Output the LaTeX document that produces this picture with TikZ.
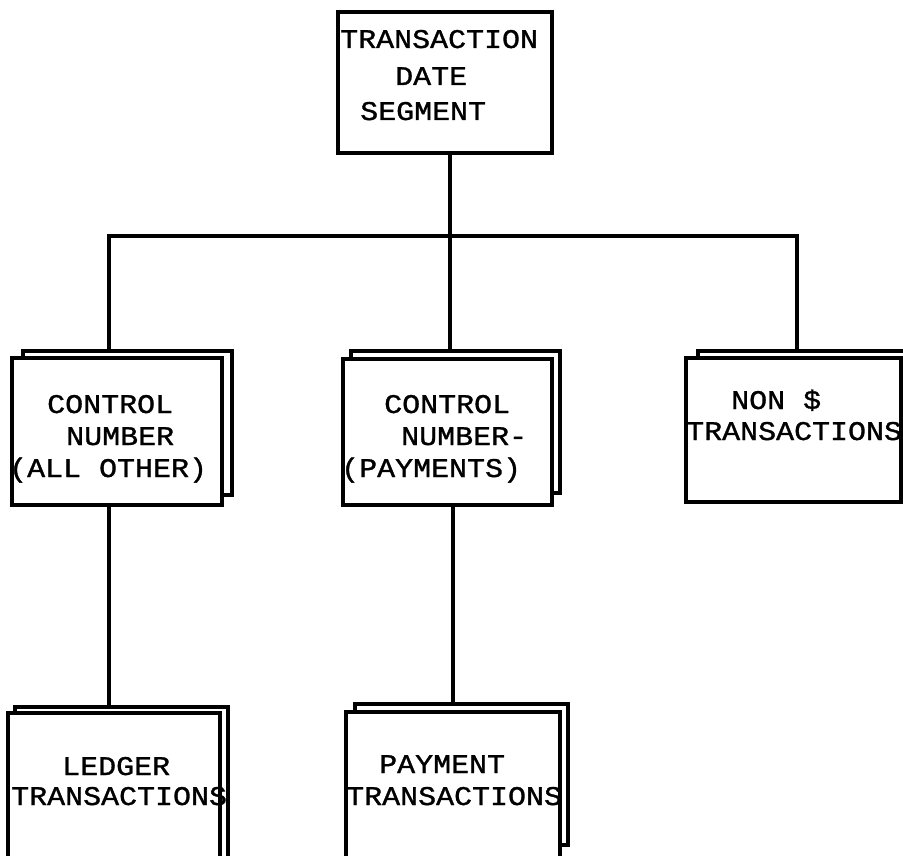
\documentclass[tikz,border=0pt]{standalone}
\usepackage{fontspec}
\newfontfamily\typewriterfont[FakeStretch=1.11,FakeBold=1.2]{Liberation Mono}
\begin{document}
\begin{tikzpicture}[x=1pt,y=-1pt,
  sheet/.style={draw, rectangle, line width=3.4pt, fill=white, inner sep=0pt},
  wire/.style={line width=3.2pt, line join=miter},
  typed/.style={font=\typewriterfont\fontsize{27}{27}\selectfont, inner sep=0pt, anchor=base west}]
\clip (0,0) rectangle (903,856);
\fill[white] (0,0) rectangle (903,856);

% top level record
\node[sheet, minimum width=214pt, minimum height=141pt] (tds) at (445,82.5) {};

% junctions on the distribution bar
\coordinate (jl) at (109,236);
\coordinate (jm) at (450,236);
\coordinate (jr) at (797,236);

% second level: back sheets, then front sheets
\node[sheet, minimum width=209pt, minimum height=144pt] (cnao-b) at (127.5,423) {};
\node[sheet, minimum width=210pt, minimum height=147pt] (cnao) at (117,431.5) {};
\node[sheet, minimum width=209pt, minimum height=142pt] (cnpay-b) at (455.5,422) {};
\node[sheet, minimum width=209pt, minimum height=146pt] (cnpay) at (447.5,432) {};
\node[sheet, minimum width=214pt, minimum height=141pt] (nond-b) at (805,421.5) {};
\node[sheet, minimum width=215pt, minimum height=144pt] (nond) at (793.5,430) {};

% third level
\node[sheet, minimum width=213pt, minimum height=173pt] (ledger-b) at (121.5,793.5) {};
\node[sheet, minimum width=212pt, minimum height=177pt] (ledger) at (114,801.5) {};
\node[sheet, minimum width=213pt, minimum height=141pt] (paytr-b) at (461.5,774.5) {};
\node[sheet, minimum width=214pt, minimum height=178pt] (paytr) at (453,801) {};

% connectors
\draw[wire] (tds.south -| jm) -- (jm);
\draw[wire] (jl |- cnao-b.north) -- (jl) -- (jr) -- (jr |- nond-b.north);
\draw[wire] (jm) -- (jm |- cnpay-b.north);
\draw[wire] (cnao.south -| jl) -- (ledger-b.north -| jl);
\draw[wire] (cnpay.south -| paytr.north) -- (paytr-b.north -| paytr.north);

% typed labels
\node[typed] (tds-1) at (340,48) {TRANSACTION};
\node[typed] (tds-2) at (395,85) {DATE};
\node[typed] (tds-3) at (360,120) {SEGMENT};

\node[typed] (cnao-1) at (47,413) {CONTROL};
\node[typed] (cnao-2) at (66,445) {NUMBER};
\node[typed] (cnao-3) at (9,477) {(ALL OTHER)};

\node[typed] (cnpay-1) at (384,413) {CONTROL};
\node[typed] (cnpay-2) at (401,445) {NUMBER-};
\node[typed] (cnpay-3) at (341,477) {(PAYMENTS)};

\node[typed] (nond-1) at (731,409) {NON \$};
\node[typed] (nond-2) at (686,440) {TRANSACTIONS};

\node[typed] (ledger-1) at (62,775) {LEDGER};
\node[typed] (ledger-2) at (11,805) {TRANSACTIONS};

\node[typed] (paytr-1) at (379,773) {PAYMENT};
\node[typed] (paytr-2) at (346,805) {TRANSACTIONS};
\end{tikzpicture}
\end{document}
